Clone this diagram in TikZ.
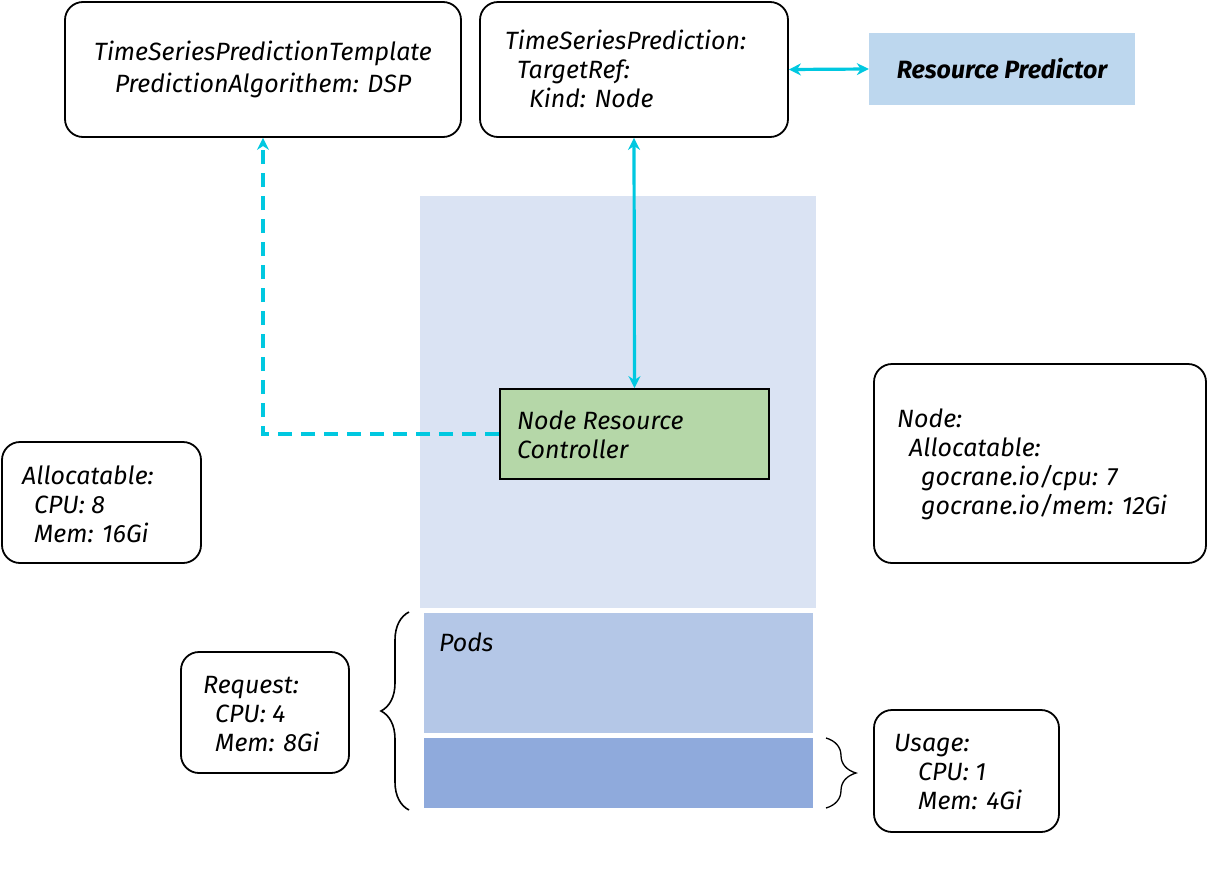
\documentclass[tikz,border=0pt]{standalone}
\usepackage{fontspec}
\setmainfont{Fira Sans}
\usetikzlibrary{arrows.meta,decorations.pathreplacing,calc}
\definecolor{cy}{RGB}{0,200,224}
\definecolor{bgA}{RGB}{218,227,243}
\definecolor{bgB}{RGB}{180,199,231}
\definecolor{bgC}{RGB}{143,170,220}
\definecolor{predC}{RGB}{189,215,238}
\definecolor{nrcC}{RGB}{181,215,168}
\begin{document}
\begin{tikzpicture}[x=1pt,y=-1pt,
  txt/.style={font=\fontsize{25}{29}\selectfont\itshape, inner sep=0pt, align=left},
  rbox/.style={draw, line width=1.8pt, rounded corners=18pt, inner sep=0pt},
  fbox/.style={inner sep=0pt, draw=none},
  cyline/.style={draw=cy, line width=3.2pt, {Stealth[length=12pt,width=12pt]}-{Stealth[length=12pt,width=12pt]}},
  cydash/.style={draw=cy, line width=3.2pt, dash pattern=on 14pt off 9pt, -{Stealth[length=12pt,width=12pt]}},
  brc/.style={draw, line width=1.6pt, decorate}
]
\useasboundingbox (0,0) rectangle (1208,876);
% background regions
\node[fbox, fill=bgA, minimum width=396pt, minimum height=412pt] (bg) at (618,402) {};
\node[fbox, fill=bgB, minimum width=389pt, minimum height=120pt] (pods) at (618.5,673) {};
\node[fbox, fill=bgC, minimum width=389pt, minimum height=70pt] (usg) at (618.5,773) {};
\node[txt, anchor=west] (podst) at (439,642) {Pods};

% top boxes
\node[rbox, minimum width=396pt, minimum height=135pt] (tpl) at (263,69.5) {};
\node[txt, align=center, font=\fontsize{25}{32}\selectfont\itshape] (tplt) at (263,69) {TimeSeriesPredictionTemplate\\PredictionAlgorithem: DSP};
\node[rbox, minimum width=308pt, minimum height=135pt] (tsp) at (634,69.5) {};
\node[txt, anchor=west] (tspt) at (505,69) {TimeSeriesPrediction:\\\hspace*{12pt}TargetRef:\\\hspace*{24pt}Kind: Node};
\node[fbox, fill=predC, minimum width=266pt, minimum height=72pt, font=\fontsize{25}{29}\selectfont\bfseries\itshape] (pred) at (1002,69) {Resource Predictor};

% controller
\node[draw, line width=1.8pt, fill=nrcC, minimum width=269pt, minimum height=90pt, inner sep=0pt] (nrc) at (634.5,434) {};
\node[txt, anchor=west] (nrct) at (517,435) {Node Resource\\Controller};

% side boxes
\node[rbox, minimum width=199pt, minimum height=121pt] (alloc) at (101.5,502.5) {};
\node[txt, anchor=west] (allt) at (22,504) {Allocatable:\\\hspace*{12pt}CPU: 8\\\hspace*{12pt}Mem: 16Gi};
\node[rbox, minimum width=332pt, minimum height=199pt] (nodeb) at (1040,463.5) {};
\node[txt, anchor=west] (nodet) at (897,464) {Node:\\\hspace*{12pt}Allocatable:\\\hspace*{24pt}gocrane.io/cpu: 7\\\hspace*{24pt}gocrane.io/mem: 12Gi};
\node[rbox, minimum width=168pt, minimum height=121pt] (req) at (265,712.5) {};
\node[txt, anchor=west] (reqt) at (203,714) {Request:\\\hspace*{12pt}CPU: 4\\\hspace*{12pt}Mem: 8Gi};
\node[rbox, minimum width=185pt, minimum height=122pt] (use) at (966.5,771) {};
\node[txt, anchor=west] (uset) at (894,772) {Usage:\\\hspace*{24pt}CPU: 1\\\hspace*{24pt}Mem: 4Gi};

% connectors
\draw[cyline] (tsp.east) -- (pred.west);
\draw[cyline] (tsp.south) -- (nrc.north);
\draw[cydash] (nrc.west) -| (tpl.south);

% braces
\coordinate (lb1) at (409,810);
\coordinate (lb2) at (409,612);
\draw[brc, decoration={brace, amplitude=28pt}] (lb1) -- (lb2);
\coordinate (rb1) at (826,738);
\coordinate (rb2) at (826,808);
\draw[brc, line width=1.3pt, decoration={brace, amplitude=30pt}] (rb1) -- (rb2);
\end{tikzpicture}
\end{document}
